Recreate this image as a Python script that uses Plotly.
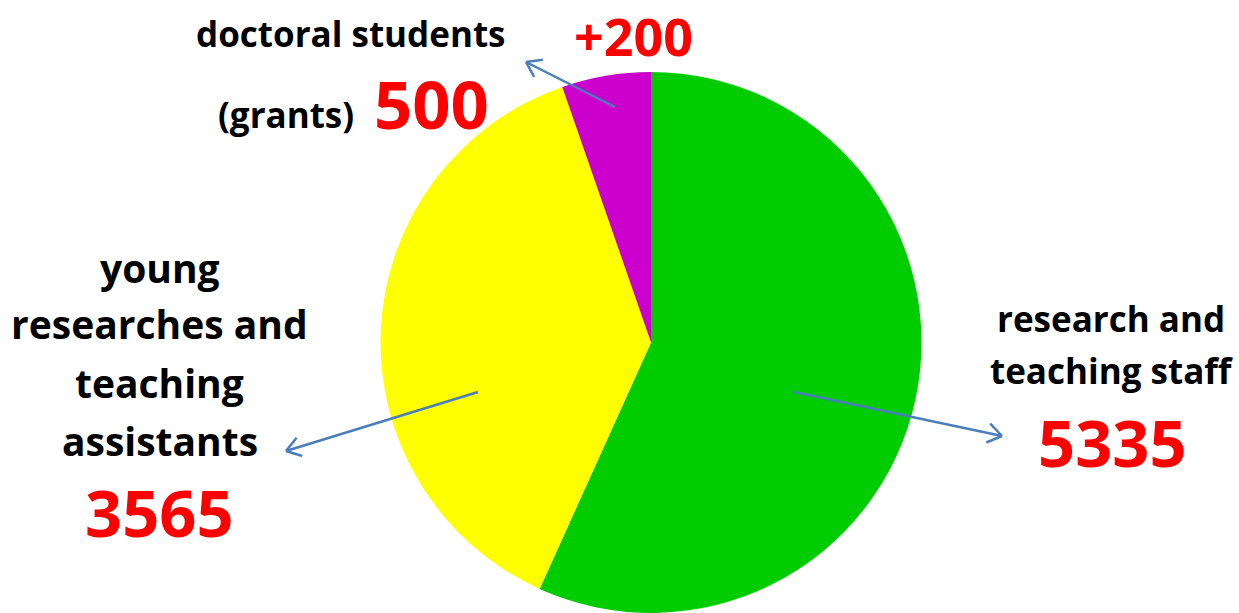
import math
import plotly.graph_objects as go

W, H = 1239, 613

categories = ["research and teaching staff", "young researches and teaching assistants", "doctoral students (grants)"]
values = [5335, 3565, 500]
colors = ["#00CC00", "#FFFF00", "#CC00CC"]
extra_label = "+200"

FONT = "Open Sans"
fig = go.Figure(go.Pie(
    labels=categories, values=values, sort=False, direction="clockwise", rotation=0,
    marker=dict(colors=colors, line=dict(color="white", width=0)),
    textinfo="none", hoverinfo="label+value", showlegend=False,
    domain=dict(x=[379 / W, 923 / W], y=[0, 1 - 72 / H]),
))

def px(x, y):
    return x / W, 1 - y / H

anns = []
def text(t, x, y, size, color="black"):
    xx, yy = px(x, y)
    anns.append(dict(text=t, x=xx, y=yy, xref="paper", yref="paper", showarrow=False,
                     xanchor="center", yanchor="middle",
                     font=dict(family=FONT, size=size, color=color, weight="bold")))

BS = 35
LS = 39
# doctoral students
text("doctoral students", 351, 33, BS)
text("(grants)", 286, 115, BS)
text(f"{values[2]}", 431, 103, 67, "#FF0000")
text(extra_label, 633, 36, 52, "#FF0000")
# young researchers
for t, y in [("young", 268), ("researches and", 323), ("teaching", 382), ("assistants", 440)]:
    text(t, 160, y, LS)
text(f"{values[1]}", 160, 512, 65, "#FF0000")
# research and teaching staff
for t, y in [("research and", 318), ("teaching staff", 370)]:
    text(t, 1111, y, BS)
text(f"{values[0]}", 1112, 442, 65, "#FF0000")

shapes = []
ARROW = "#4A7EBB"
def arrow(x0, y0, x1, y1):
    a, b = px(x0, y0); c, d = px(x1, y1)
    shapes.append(dict(type="line", xref="paper", yref="paper", x0=a, y0=b, x1=c, y1=d,
                       line=dict(color=ARROW, width=2.5)))
    ang = math.atan2(y1 - y0, x1 - x0)
    L = 17
    for s in (+0.6, -0.6):
        hx = x1 - L * math.cos(ang + s)
        hy = y1 - L * math.sin(ang + s)
        e, f = px(hx, hy)
        shapes.append(dict(type="line", xref="paper", yref="paper", x0=c, y0=d, x1=e, y1=f,
                           line=dict(color=ARROW, width=2.5)))

arrow(794, 392, 1002, 436)
arrow(478, 392, 286, 451)
arrow(615, 107, 526, 62)

fig.update_layout(width=W, height=H, margin=dict(l=0, r=0, t=0, b=0),
                  paper_bgcolor="white", plot_bgcolor="white",
                  annotations=anns, shapes=shapes)
fig.write_html("out.html", config={"displayModeBar": False},
               post_script="document.body.style.margin='0';document.body.style.overflow='hidden';")
